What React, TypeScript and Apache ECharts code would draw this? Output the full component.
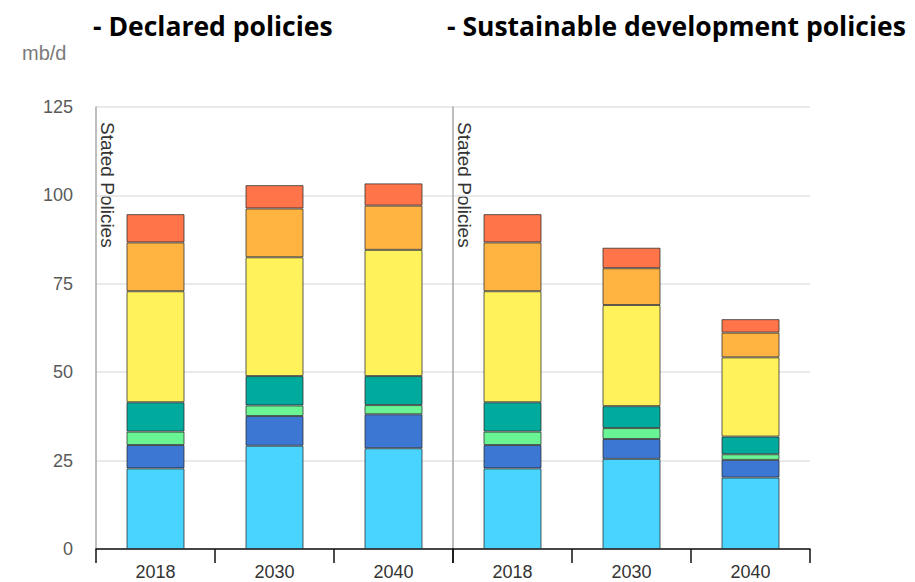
import React, { useEffect, useRef } from "react";
import * as echarts from "echarts";

const years = ["2018", "2030", "2040"];
const panelTitles = ["- Declared policies", "- Sustainable development policies"];
const panelNotes = ["Stated Policies", "Stated Policies"];
const unitLabel = "mb/d";
const yMax = 125;
const yStep = 25;

// six bars: 3 stated policies + 3 sustainable development
const layerNames = ["Layer 1", "Layer 2", "Layer 3", "Layer 4", "Layer 5", "Layer 6", "Layer 7"];
const layerLightBlue = [22.8, 29.2, 28.5, 22.8, 25.5, 20.2];
const layerBlue = [6.6, 8.4, 9.6, 6.6, 5.6, 5.0];
const layerLightGreen = [3.8, 3.0, 2.6, 3.8, 3.1, 1.6];
const layerTeal = [8.3, 8.3, 8.2, 8.3, 6.2, 5.0];
const layerYellow = [31.4, 33.6, 35.7, 31.4, 28.6, 22.4];
const layerOrange = [13.8, 13.8, 12.5, 13.8, 10.4, 7.0];
const layerRed = [8.0, 6.6, 6.3, 8.0, 5.8, 3.8];

const layers = [layerLightBlue, layerBlue, layerLightGreen, layerTeal, layerYellow, layerOrange, layerRed];
const layerColors = ["#48d4fe", "#3c78d3", "#69f593", "#00aa9c", "#fff25a", "#ffb441", "#ff7449"];

export default function App() {
  const ref = useRef<HTMLDivElement>(null);
  useEffect(() => {
    if (!ref.current) return;
    const chart = echarts.init(ref.current, null, { renderer: "svg" });
    const font = "Liberation Sans, Arial, sans-serif";
    const grids = [
      { left: 96, width: 357, top: 107, height: 442 },
      { left: 453, width: 357, top: 107, height: 442 },
    ];
    const xAxes = [0, 1].map((i) => ({
      type: "category",
      gridIndex: i,
      data: years,
      axisLine: { show: true, lineStyle: { color: "#111", width: 1.5 } },
      axisTick: { show: true, length: 14, lineStyle: { color: "#111", width: 1.5 } },
      axisLabel: { color: "#333", fontSize: 18, margin: 14, fontFamily: font },
    }));
    const yAxes = [0, 1].map((i) => ({
      type: "value",
      gridIndex: i,
      min: 0,
      max: yMax,
      interval: yStep,
      axisLine: { show: true, lineStyle: { color: "#a8a8a8", width: 1.5 } },
      axisTick: { show: false },
      axisLabel: { show: i === 0, color: "#5a5a5a", fontSize: 18, margin: 23, fontFamily: font },
      splitLine: { show: true, lineStyle: { color: "#e3e3e3", width: 1.5 } },
    }));
    const series: any[] = [];
    [0, 1].forEach((g) => {
      layers.forEach((arr, li) => {
        series.push({
          name: layerNames[li],
          type: "bar",
          xAxisIndex: g,
          yAxisIndex: g,
          stack: "s" + g,
          barWidth: 58,
          data: arr.slice(g * 3, g * 3 + 3),
          itemStyle: { color: layerColors[li], borderColor: "rgba(40,40,40,0.75)", borderWidth: 1 },
        });
      });
    });
    const titleFont = "bold 26.5px 'Open Sans', sans-serif";
    const graphic: any[] = [
      {
        type: "text",
        x: 93,
        y: 26,
        style: { text: panelTitles[0], font: titleFont, fill: "#000", textVerticalAlign: "middle" },
      },
      {
        type: "text",
        x: 447,
        y: 26,
        style: { text: panelTitles[1], font: titleFont, fill: "#000", textVerticalAlign: "middle" },
      },
      {
        type: "text",
        x: 22,
        y: 53,
        style: { text: unitLabel, font: "20px " + font, fill: "#7a7a7a", textVerticalAlign: "middle" },
      },
      {
        type: "text",
        x: 107,
        y: 122,
        rotation: -Math.PI / 2,
        style: { text: panelNotes[0], font: "19px " + font, fill: "#333", textAlign: "left", textVerticalAlign: "middle" },
      },
      {
        type: "text",
        x: 464,
        y: 122,
        rotation: -Math.PI / 2,
        style: { text: panelNotes[1], font: "19px " + font, fill: "#333", textAlign: "left", textVerticalAlign: "middle" },
      },
    ];
    chart.setOption({
      animation: false,
      grid: grids,
      xAxis: xAxes,
      yAxis: yAxes,
      series,
      graphic,
    });
    return () => chart.dispose();
  }, []);
  return <div ref={ref} style={{ position: "absolute", left: 0, top: 0, width: 915, height: 582, background: "#fff" }} />;
}
